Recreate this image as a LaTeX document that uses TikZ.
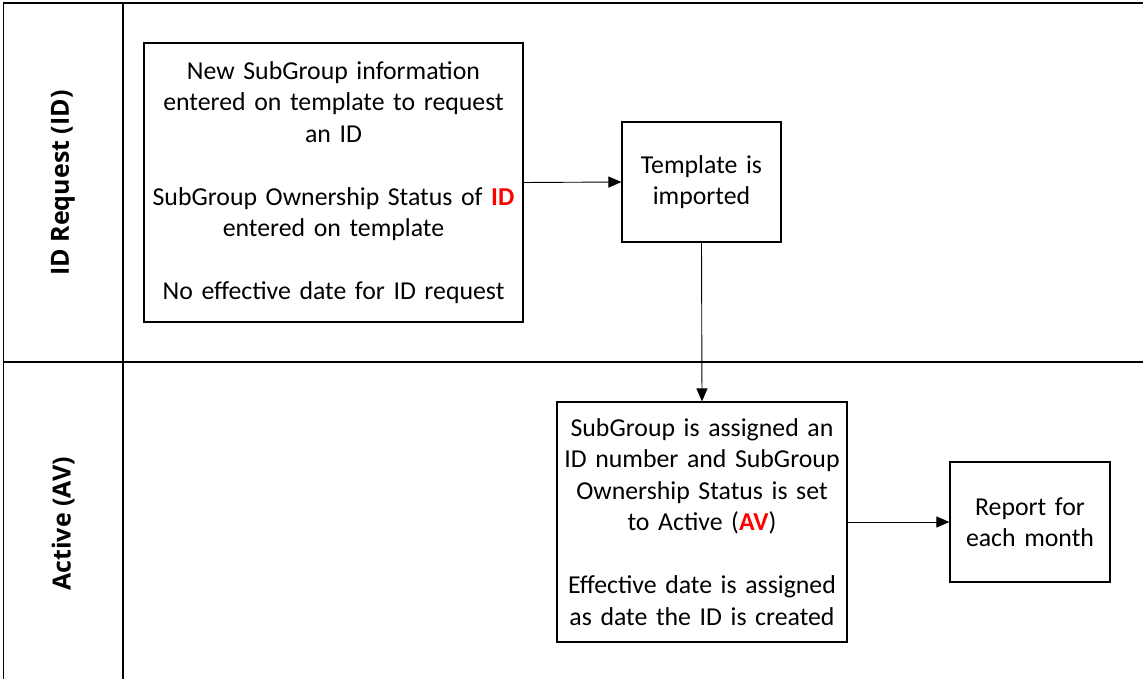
\documentclass[tikz,border=0pt]{standalone}
\usepackage{fontspec}
\setmainfont{Carlito}
\newfontfamily\lanefont{Open Sans}
\usetikzlibrary{arrows.meta}
\begin{document}
\begin{tikzpicture}[x=1pt,y=-1pt,
  lane/.style={line width=1.4pt},
  box/.style={draw,line width=1.2pt,inner sep=0pt,align=center,
    font=\fontsize{25.8}{31.5}\selectfont},
  lanelabel/.style={rotate=90,font=\lanefont\fontsize{25}{30}\selectfont\bfseries},
  flow/.style={line width=0.9pt,-{Triangle[length=13pt,width=11pt]}}]
\useasboundingbox (0,0) rectangle (1143,679);
% swimlane frame
\draw[lane] (1143,3) -- (3.5,3) -- (3.5,679);
\draw[lane] (123,3) -- (123,679);
\draw[lane] (3.5,362) -- (1143,362);
\node[lanelabel] (l1) at (63,183) {ID Request (ID)};
\node[lanelabel] (l2) at (63,524) {Active (AV)};
% boxes
\node[box,minimum width=379pt,minimum height=279pt,text width=370pt] (b1) at (333.5,182.5)
 {New SubGroup information\\entered on template to request\\an ID\\[31.5pt]
  SubGroup Ownership Status of \textcolor{red}{\bfseries ID}\\entered on template\\[31.5pt]
  No effective date for ID request};
\node[box,minimum width=159pt,minimum height=120pt,text width=150pt] (b2) at (701.5,182)
 {Template is\\imported};
\node[box,minimum width=290pt,minimum height=240pt,text width=280pt] (b3) at (702,522)
 {SubGroup is assigned an\\ID number and SubGroup\\Ownership Status is set\\to Active (\textcolor{red}{\bfseries AV})\\[31.5pt]
  Effective date is assigned\\as date the ID is created};
\node[box,minimum width=160pt,minimum height=120pt,text width=150pt] (b4) at (1030,522)
 {Report for\\each month};
% connectors
\draw[flow] (b1.east) -- (b2.west);
\draw[flow] (b2.south) -- (b3.north);
\draw[flow] (b3.east) -- (b4.west);
\end{tikzpicture}
\end{document}
